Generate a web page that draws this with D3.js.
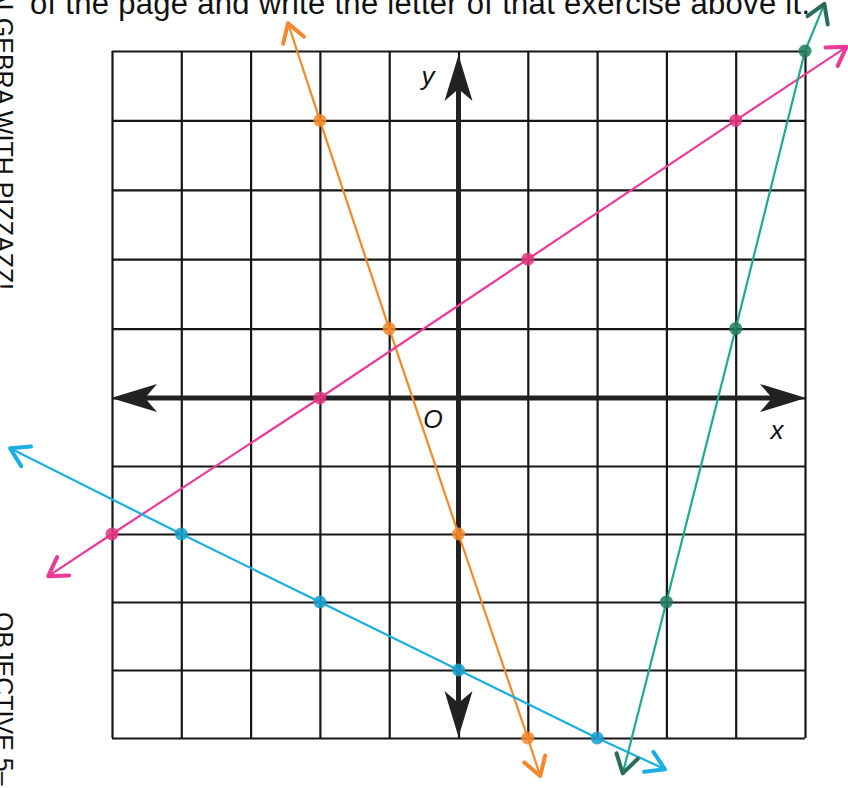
<!DOCTYPE html>
<html>
<head>
<meta charset="utf-8">
<script src="https://cdn.jsdelivr.net/npm/d3@7"></script>
<style>
  body { margin: 0; background: #fff; }
  svg { display: block; }
</style>
</head>
<body>
<svg id="graph" width="848" height="788"></svg>
<script>
// grid values (both axes run -5..5)
var gridValues = [-5, -4, -3, -2, -1, 0, 1, 2, 3, 4, 5];

// plotted points of each line
var orangePoints  = [[-2, 4], [-1, 1], [0, -2], [1, -5]];
var magentaPoints = [[-5, -2], [-2, 0], [1, 2], [4, 4]];
var cyanPoints    = [[-4, -2], [-2, -3], [0, -4], [2, -5]];
var tealPoints    = [[3, -3], [4, 1], [5, 5]];

// where the hand drawn arrows end (start tip, end tip)
var orangeTips  = [[-2.46, 5.4], [1.18, -5.56]];
var magentaTips = [[-5.92, -2.62], [5.6, 5.06]];
var cyanTips    = [[-6.47, -0.74], [2.98, -5.46]];
var tealTips    = [[2.37, -5.52], [5.28, 5.68]];

// page text
var headerText = "of the page and write the letter of that exercise above it.";
var marginTop = "ALGEBRA WITH PIZZAZZ!";
var marginBottom = "OBJECTIVE 5\u2013";

var lines = [
  {points: orangePoints,  tips: orangeTips,  color: "#f5882a", dot: "#f5882a", head: "#f5882a"},
  {points: magentaPoints, tips: magentaTips, color: "#ec3b96", dot: "#e0357f", head: "#ec3b96"},
  {points: cyanPoints,    tips: cyanTips,    color: "#1aaee2", dot: "#179fd0", head: "#1aaee2"},
  {points: tealPoints,    tips: tealTips,    color: "#1cab8c", dot: "#1f7a5e", head: "#2b6b5a"}
];

var svg = d3.select("#graph");

// scales (the scan is slightly uneven above/below the x axis)
var x = d3.scaleLinear().domain([-5, 5]).range([112, 805]);
var y = d3.scaleLinear().domain([-5, 0, 5]).range([738, 398, 51]);

var font = "'Liberation Sans', Arial, sans-serif";

// header line, cut at the top of the scan
svg.append("text")
  .attr("x", 30).attr("y", 14)
  .attr("textLength", 780)
  .style("font-family", font)
  .style("font-size", "31px")
  .style("fill", "#111")
  .text(headerText);

// rotated margin texts on the left edge
svg.append("text")
  .attr("transform", "translate(-5,290) rotate(90)")
  .attr("text-anchor", "end")
  .style("font-family", font)
  .style("font-size", "25px")
  .style("fill", "#111")
  .text(marginTop);

svg.append("text")
  .attr("transform", "translate(-5,612) rotate(90)")
  .style("font-family", font)
  .style("font-size", "25px")
  .style("fill", "#111")
  .text(marginBottom);

// grid, drawn with axes and long ticks
var gridX = svg.append("g")
  .attr("transform", "translate(0," + y(-5) + ")")
  .call(d3.axisBottom(x).tickValues(gridValues).tickSize(-(y(-5) - y(5))).tickFormat(""));
var gridY = svg.append("g")
  .attr("transform", "translate(" + x(-5) + ",0)")
  .call(d3.axisLeft(y).tickValues(gridValues).tickSize(-(x(5) - x(-5))).tickFormat(""));
[gridX, gridY].forEach(function(g) {
  g.select(".domain").remove();
  g.selectAll(".tick line").attr("stroke", "#161616").attr("stroke-width", 2.2);
});

// thick axes with filled arrowheads
var axisColor = "#222";
function axisHead(tip, dir) {
  // dir: unit vector pointing out of the tip
  var len = 46, half = 14, notch = 34;
  var px = -dir[1], py = dir[0];
  var bx = tip[0] - dir[0] * len, by = tip[1] - dir[1] * len;
  var nx = tip[0] - dir[0] * notch, ny = tip[1] - dir[1] * notch;
  return "M" + tip[0] + "," + tip[1] +
    "L" + (bx + px * half) + "," + (by + py * half) +
    "L" + nx + "," + ny +
    "L" + (bx - px * half) + "," + (by - py * half) + "Z";
}
var axes = svg.append("g");
axes.append("line")
  .attr("x1", x(-5) + 20).attr("x2", x(5) - 20)
  .attr("y1", y(0)).attr("y2", y(0))
  .attr("stroke", axisColor).attr("stroke-width", 5);
axes.append("line")
  .attr("x1", x(0)).attr("x2", x(0))
  .attr("y1", y(5) + 20).attr("y2", y(-5) - 20)
  .attr("stroke", axisColor).attr("stroke-width", 5);
axes.append("path").attr("d", axisHead([x(-5) - 1, y(0)], [-1, 0])).attr("fill", axisColor);
axes.append("path").attr("d", axisHead([x(5) + 1, y(0)], [1, 0])).attr("fill", axisColor);
axes.append("path").attr("d", axisHead([x(0), y(5) + 4], [0, -1])).attr("fill", axisColor);
axes.append("path").attr("d", axisHead([x(0), y(-5) - 1], [0, 1])).attr("fill", axisColor);

// axis labels
svg.append("text").attr("x", 428).attr("y", 85).attr("text-anchor", "middle")
  .style("font-family", font).style("font-style", "italic").style("font-size", "26px")
  .style("fill", "#111").text("y");
svg.append("text").attr("x", 777).attr("y", 439).attr("text-anchor", "middle")
  .style("font-family", font).style("font-style", "italic").style("font-size", "26px")
  .style("fill", "#111").text("x");
svg.append("text").attr("x", 433).attr("y", 428).attr("text-anchor", "middle")
  .style("font-family", font).style("font-style", "italic").style("font-size", "25px")
  .style("fill", "#111").text("O");

// coloured lines with hand drawn open arrowheads
var lineGen = d3.line()
  .x(function(d) { return x(d[0]); })
  .y(function(d) { return y(d[1]); });

function openHead(tipPt, fromPt) {
  var tx = x(tipPt[0]), ty = y(tipPt[1]);
  var fx = x(fromPt[0]), fy = y(fromPt[1]);
  var a = Math.atan2(ty - fy, tx - fx);
  var len = 21, spread = 0.55;
  var a1 = a + Math.PI - spread, a2 = a + Math.PI + spread;
  return "M" + (tx + len * Math.cos(a1)) + "," + (ty + len * Math.sin(a1)) +
    "L" + tx + "," + ty +
    "L" + (tx + len * Math.cos(a2)) + "," + (ty + len * Math.sin(a2));
}

lines.forEach(function(l) {
  var g = svg.append("g");
  var path = [l.tips[0]].concat(l.points, [l.tips[1]]);
  g.append("path")
    .datum(path)
    .attr("d", lineGen)
    .attr("fill", "none")
    .attr("stroke", l.color)
    .attr("stroke-width", 2.2);
  g.append("path")
    .attr("d", openHead(l.tips[0], l.points[0]))
    .attr("fill", "none").attr("stroke", l.head)
    .attr("stroke-width", 4).attr("stroke-linecap", "round").attr("stroke-linejoin", "round");
  g.append("path")
    .attr("d", openHead(l.tips[1], l.points[l.points.length - 1]))
    .attr("fill", "none").attr("stroke", l.head)
    .attr("stroke-width", 4).attr("stroke-linecap", "round").attr("stroke-linejoin", "round");
  g.selectAll("circle")
    .data(l.points)
    .enter().append("circle")
    .attr("cx", function(d) { return x(d[0]); })
    .attr("cy", function(d) { return y(d[1]); })
    .attr("r", 6.5)
    .attr("fill", l.dot)
    .attr("fill-opacity", 0.85);
});
</script>
</body>
</html>
